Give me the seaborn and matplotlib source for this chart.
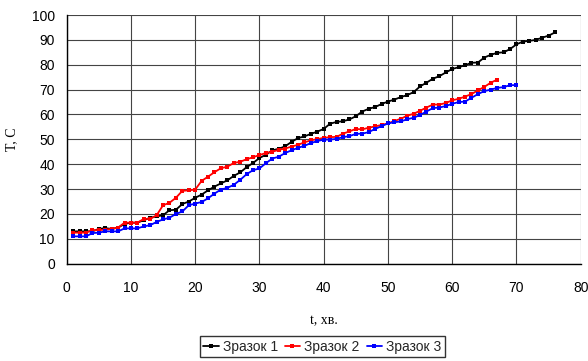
import numpy as np
import pandas as pd
import matplotlib
matplotlib.use("Agg")
import matplotlib.pyplot as plt
import seaborn as sns

# Temperature readings, one per minute
t1 = list(range(1, 77))
temp1 = [13, 13, 13, 13, 14, 14.3, 14, 14.5, 16, 16.5,
         16.5, 17.5, 18.5, 19, 19.5, 21.5, 21.7, 24, 25, 26.5,
         27.8, 29.5, 31, 32.3, 33.5, 35.3, 36.7, 38.8, 40.5, 42.5,
         43.8, 45.6, 46.2, 47.2, 49, 50.5, 51.2, 52.2, 53.1, 54.2,
         56.3, 57, 57.3, 58, 59.3, 61.2, 62.3, 63, 64.2, 65.2,
         66, 67, 67.8, 69, 71.3, 72.8, 74.4, 75.4, 76.9, 78.3,
         79, 79.8, 80.8, 80.9, 82.9, 84, 84.8, 85, 86.3, 88.2,
         89.3, 89.6, 90, 90.9, 91.7, 93]

t2 = list(range(1, 68))
temp2 = [12.5, 12.5, 12.5, 13.5, 13.5, 13.7, 14, 14.5, 16.5, 16.5,
         16.5, 18, 18, 19.5, 23.5, 24.5, 26.5, 29.3, 29.5, 29.8,
         33.3, 35, 36.8, 38.4, 39, 40.5, 41, 42, 42.8, 43.7,
         44.5, 45, 45.8, 46.3, 47.1, 47.8, 48.8, 49.6, 50.1, 50.6,
         50.9, 51, 52.3, 53.2, 54.2, 54, 54.7, 55.2, 55.8, 56.4,
         57.4, 58.3, 59.5, 60.3, 61.5, 62.8, 64, 64, 64.6, 65.7,
         66.3, 67.2, 68.2, 69.7, 71.1, 72.8, 74]

t3 = list(range(1, 71))
temp3 = [11, 11, 11, 12.3, 12.5, 13, 13, 13, 14.2, 14.2,
         14.2, 15, 15.5, 16.8, 17.8, 18.5, 20, 21, 23.5, 24.2,
         24.8, 26.3, 28.2, 29.8, 30.5, 31.7, 33.7, 36, 37.6, 38.3,
         40.4, 42.3, 43, 44.5, 45.6, 46.6, 47.4, 48.5, 49.3, 49.9,
         49.9, 50.2, 50.9, 51.3, 52.2, 52.3, 52.9, 54.2, 55.3, 56.4,
         56.9, 57.2, 58.1, 58.7, 59.8, 61.2, 62.6, 62.8, 63.4, 64.3,
         65, 65.2, 66.7, 68.2, 69.4, 70, 70.7, 71, 71.8, 71.8]

names = ["Зразок 1", "Зразок 2", "Зразок 3"]
colors = ["black", "red", "blue"]

sns.set_theme(style="white")
plt.rcParams["font.family"] = ["Liberation Sans", "DejaVu Sans"]

fig = plt.figure(figsize=(5.88, 3.61), dpi=100)
ax = fig.add_axes([0.1134, 0.2695, 0.9876 - 0.1134, 0.9584 - 0.2695])

series = [(t1, temp1), (t2, temp2), (t3, temp3)]
msizes = [2.2, 3.3, 3.3]
for (tx, ty), name, col, ms in zip(series, names, colors, msizes):
    df = pd.DataFrame({"t": tx, "T": ty})
    sns.lineplot(data=df, x="t", y="T", ax=ax, color=col, lw=1.3,
                 marker="s", markersize=ms, markeredgewidth=0,
                 label=name, legend=False)

ax.set_xlim(0, 80)
ax.set_ylim(0, 100)
ax.set_xticks(range(0, 81, 10))
ax.set_yticks(range(0, 101, 10))
ax.grid(True, color="#444444", lw=0.8)
ax.set_axisbelow(True)
for side in ["top", "right"]:
    ax.spines[side].set_visible(False)
for side in ["left", "bottom"]:
    ax.spines[side].set_color("black")
    ax.spines[side].set_linewidth(1.0)
ax.tick_params(axis="both", direction="out", length=3.5, width=1.0,
               color="black", labelsize=10, labelcolor="black")
ax.tick_params(axis="x", pad=9)
ax.tick_params(axis="y", pad=5)

ax.set_xlabel("t, хв.", fontfamily="Liberation Serif", fontsize=10,
              color="black", labelpad=14)
ax.set_ylabel("T, C", fontfamily="Liberation Serif", fontsize=10,
              color="black", labelpad=10)

handles, labels = ax.get_legend_handles_labels()
leg = fig.legend(handles, labels, loc="center", bbox_to_anchor=(0.548, 0.04),
                 ncol=3, frameon=True, fancybox=False, fontsize=10,
                 handlelength=1.1, handletextpad=0.3, columnspacing=0.5,
                 borderpad=0.25, borderaxespad=0)
leg.get_frame().set_edgecolor("black")
leg.get_frame().set_linewidth(1.0)

fig.savefig("out.png", dpi=100, facecolor="white")
